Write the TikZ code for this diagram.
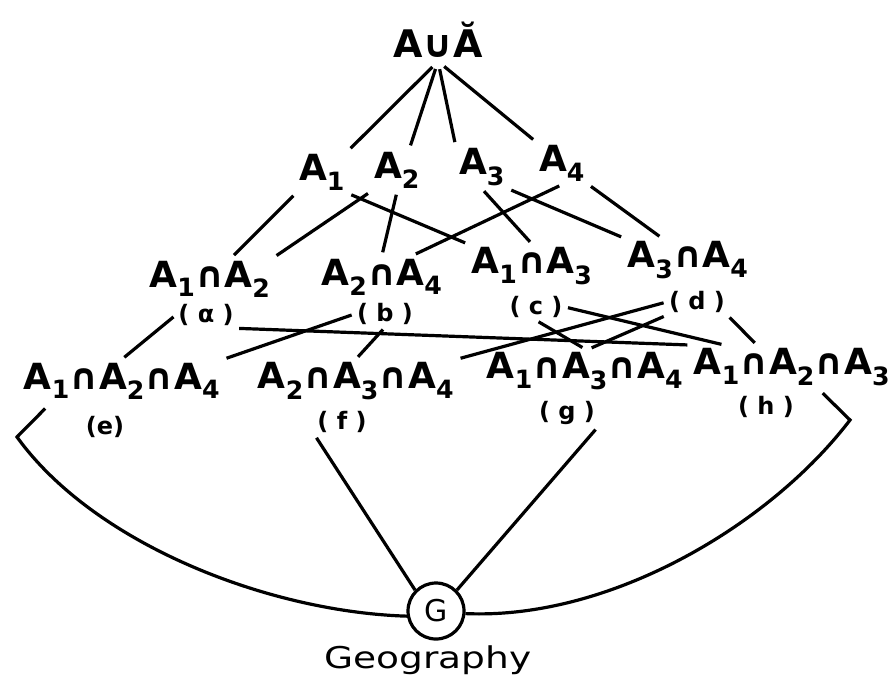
\documentclass[tikz,border=0pt]{standalone}
\usepackage{fontspec}
\setmainfont{DejaVu Sans}
\usetikzlibrary{calc}

\begin{document}
\begin{tikzpicture}[x=1pt, y=-1pt, line width=3.2pt,
    set/.style={inner sep=2pt, font=\fontsize{36}{40}\selectfont\bfseries},
    tag/.style={inner sep=1pt, font=\fontsize{24}{28}\selectfont\bfseries},
    link/.style={shorten <=3pt, shorten >=3pt}]
            \useasboundingbox (0,0) rectangle (893,686);

            % top and single sets
            \node[set, font=\fontsize{38}{42}\selectfont\bfseries] (t) at (438,40) {A∪Ă};
            \node[set] (a1) at (322,172) {A\textsubscript{1}};
            \node[set] (a2) at (397,170) {A\textsubscript{2}};
            \node[set] (a3) at (482,167) {A\textsubscript{3}};
            \node[set] (a4) at (562,163) {A\textsubscript{4}};

            % pairs
            \node[set] (a12) at (210,279) {A\textsubscript{1}∩A\textsubscript{2}};
            \node[set] (a24) at (382,277) {A\textsubscript{2}∩A\textsubscript{4}};
            \node[set] (a13) at (532,266) {A\textsubscript{1}∩A\textsubscript{3}};
            \node[set] (a34) at (688,260) {A\textsubscript{3}∩A\textsubscript{4}};
            \node[tag] (ta) at (206,315) {( α )};
            \node[tag] (tb) at (385,314) {( b )};
            \node[tag] (tc) at (536,307) {( c )};
            \node[tag] (td) at (697,302) {( d )};

            % triples
            \node[set] (e) at (122,381) {A\textsubscript{1}∩A\textsubscript{2}∩A\textsubscript{4}};
            \node[set] (f) at (356,381) {A\textsubscript{2}∩A\textsubscript{3}∩A\textsubscript{4}};
            \node[set] (g) at (585,371) {A\textsubscript{1}∩A\textsubscript{3}∩A\textsubscript{4}};
            \node[set] (h) at (792,367) {A\textsubscript{1}∩A\textsubscript{2}∩A\textsubscript{3}};
            \node[tag] (te) at (105,427) {(e)};
            \node[tag] (tf) at (342,422) {( f )};
            \node[tag] (tg) at (567,413) {( g )};
            \node[tag] (th) at (766,407) {( h )};

            % geography
            \node[circle, draw, minimum size=56pt, inner sep=0pt, font=\fontsize{30}{34}\selectfont] (geo) at (436,611) {G};
            \node[font=\fontsize{30}{34}\selectfont] (geoname) at (428,660) {\scalebox{1.25}[1]{Geography}};

            \coordinate (ecorner) at (17,437);
            \coordinate (hcorner) at (850,420);

            \draw[link, shorten <=8pt] (t.south) -- (a1.north east);
            \draw[link, shorten <=8pt] (t.south) -- (a2.60);
            \draw[link, shorten <=8pt] (t.south) -- (a3.north west);
            \draw[link, shorten <=8pt] (t.south) -- (a4.north west);

            \draw[link] (a1.south west) -- (a12.45);
            \draw[link] (a2.south west) -- (a12.north east);
            \draw[link] (a1.south east) -- (a13.north west);
            \draw[link] (a2.south) -- (a24.north);
            \draw[link] (a4.south) -- (a24.35);
            \draw[link] (a3.south) -- (a13.north);
            \draw[link] (a3.south east) -- (a34.north west);
            \draw[link] (a4.south east) -- (a34.140);

            \draw[link] (ta.west) -- (e.north);
            \draw[link] (ta.south east) -- (h.north west);
            \draw[link] (tb.west) -- (e.north east);
            \draw[link] (tb.south) -- (f.north);
            \draw[link] (tc.east) -- (h.162);
            \draw[link] (tc.south) -- (g.north);
            \draw[link] (td.west) -- (f.north east);
            \draw[link] (td.south west) -- (g.80);
            \draw[link] (td.south east) -- (h.148);

            \draw[shorten <=3pt] (tf.south west) -- (geo.135);
            \draw[shorten <=3pt] (tg.south east) -- (geo.45);
            \draw[shorten <=8pt] ($(e.south west)!0.15!(e.south east)$) -- (ecorner)
                .. controls (95,545) and (270,612) .. (geo.190);
            \draw[shorten <=6pt] ($(h.south west)!0.63!(h.south east)$) -- (hcorner)
                .. controls (770,525) and (610,620) .. (geo.355);
        \end{tikzpicture}
\end{document}
